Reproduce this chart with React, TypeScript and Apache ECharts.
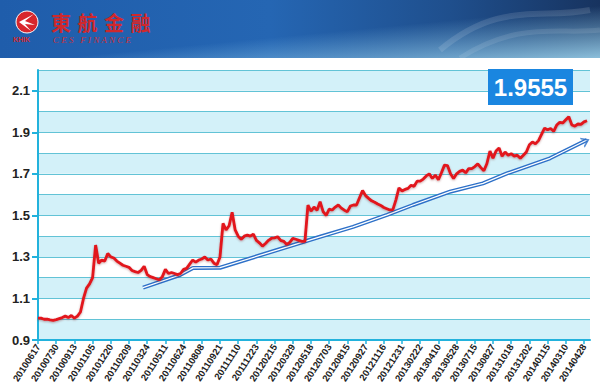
import React, { useEffect, useRef } from "react";
import * as echarts from "echarts";

// ---------- data ----------
const DATE_LABELS = [
  "20100617", "20100730", "20100913", "20101105", "20101220", "20110209",
  "20110324", "20110511", "20110624", "20110808", "20110921", "20111110",
  "20111223", "20120215", "20120329", "20120518", "20120703", "20120815",
  "20120927", "20121116", "20121231", "20130222", "20130410", "20130528",
  "20130715", "20130827", "20131018", "20131202", "20140115", "20140310",
  "20140428",
];

// samples per label interval: 6
const STEP = 1 / 6;

const RATE = [
  1.005, 1.005, 1.0, 1.0, 0.997, 0.995, 0.998, 1.003, 1.008, 1.015,
  1.008, 1.018, 1.005, 1.015, 1.035, 1.1, 1.15, 1.17, 1.2, 1.357,
  1.27, 1.285, 1.28, 1.317, 1.3, 1.295, 1.28, 1.27, 1.26, 1.255,
  1.25, 1.235, 1.229, 1.225, 1.235, 1.255, 1.215, 1.205, 1.2, 1.195,
  1.19, 1.205, 1.24, 1.22, 1.225, 1.22, 1.215, 1.22, 1.24, 1.245,
  1.265, 1.285, 1.275, 1.285, 1.29, 1.3, 1.285, 1.29, 1.27, 1.262,
  1.3, 1.462, 1.43, 1.45, 1.515, 1.43, 1.4, 1.385, 1.4, 1.405,
  1.4, 1.41, 1.38, 1.368, 1.352, 1.365, 1.38, 1.39, 1.392, 1.397,
  1.38, 1.375, 1.36, 1.37, 1.389, 1.385, 1.38, 1.375, 1.375, 1.55,
  1.52, 1.54, 1.525, 1.566, 1.518, 1.5, 1.53, 1.526, 1.54, 1.55,
  1.535, 1.525, 1.518, 1.545, 1.55, 1.55, 1.585, 1.62, 1.595, 1.582,
  1.57, 1.563, 1.555, 1.548, 1.538, 1.532, 1.526, 1.528, 1.575, 1.632,
  1.618, 1.625, 1.63, 1.645, 1.64, 1.665, 1.665, 1.675, 1.69, 1.7,
  1.678, 1.694, 1.672, 1.705, 1.742, 1.74, 1.7, 1.678, 1.7, 1.712,
  1.718, 1.705, 1.725, 1.725, 1.735, 1.748, 1.73, 1.715, 1.75, 1.81,
  1.775, 1.81, 1.825, 1.785, 1.805, 1.79, 1.797, 1.785, 1.79, 1.775,
  1.79, 1.805, 1.84, 1.853, 1.845, 1.86, 1.89, 1.92, 1.912, 1.918,
  1.905, 1.935, 1.948, 1.945, 1.96, 1.975, 1.935, 1.93, 1.94, 1.938,
  1.95, 1.9555,
];

// trend arrow (position in label intervals, value)
const TREND_X = [5.77, 7.8, 8.52, 10.0, 15.49, 17.31, 19.18, 20.6, 22.64, 24.45, 25.77, 28.13, 30.16];
const TREND_Y = [1.152, 1.213, 1.247, 1.248, 1.397, 1.445, 1.502, 1.55, 1.614, 1.654, 1.702, 1.775, 1.863];

const Y_LABELS = [0.9, 1.1, 1.3, 1.5, 1.7, 1.9, 2.1];
const LAST_VALUE = "1.9555";

const TITLE_CHARS = ["東", "航", "金", "融"];
const SUBTITLE = "C E S   F I N A N C E";
const LOGO_TEXT = "KHIK";

const FONT = "'Liberation Sans', Arial, sans-serif";

export default function App() {
  const ref = useRef<HTMLDivElement>(null);

  useEffect(() => {
    if (!ref.current) return;
    const chart = echarts.init(ref.current, null, { renderer: "svg" });

    const rateData = RATE.map((v, i) => [i * STEP, v]);
    const trendData = TREND_X.map((x, i) => [x, TREND_Y[i]]);
    const lastTrend = trendData[trendData.length - 1];
    const xTicks = DATE_LABELS.map((_, i) => i);

    const titleGraphics = TITLE_CHARS.map((c, i) => ({
      type: "text",
      left: 51 + i * 26.5,
      top: 12,
      z: 10,
      style: {
        text: c,
        fill: "#d0282c",
        font: "bold 20px 'Noto Sans CJK TC', sans-serif",
      },
    }));

    chart.setOption({
      animation: false,
      backgroundColor: "#ffffff",
      grid: {
        left: 38,
        right: 10,
        top: 70,
        bottom: 51,
        containLabel: false,
        outerBoundsMode: "none",
      },
      xAxis: {
        type: "value",
        min: 0,
        max: 30.33,
        interval: 1,
        axisLine: { show: true, lineStyle: { color: "#22b2dc", width: 2 } },
        axisTick: {
          show: true,
          customValues: xTicks,
          length: 4,
          lineStyle: { color: "#22b2dc", width: 1.5 },
        },
        axisLabel: {
          customValues: xTicks,
          formatter: (v: number) => DATE_LABELS[Math.round(v)] ?? "",
          rotate: 57,
          fontSize: 9.5,
          fontWeight: "bold",
          fontFamily: FONT,
          color: "#222",
          margin: 5,
        },
        splitLine: { show: false },
      },
      yAxis: [
        {
          type: "value",
          min: 0.9,
          max: 2.2,
          interval: 0.1,
          axisLine: { show: false },
          axisTick: { show: false },
          axisLabel: { show: false },
          splitLine: { show: true, lineStyle: { color: "#62c3d6", width: 1.2 } },
          splitArea: { show: true, areaStyle: { color: ["#d3f1f9", "#ffffff"] } },
        },
        {
          type: "value",
          position: "left",
          min: 0.9,
          max: 2.2,
          interval: 0.1,
          axisLine: { show: true, lineStyle: { color: "#22b2dc", width: 2 } },
          axisTick: {
            show: true,
            customValues: Y_LABELS,
            length: 6,
            lineStyle: { color: "#22b2dc", width: 2 },
          },
          axisLabel: {
            customValues: Y_LABELS,
            formatter: (v: number) => v.toFixed(1),
            fontSize: 13,
            fontWeight: "bold",
            fontFamily: FONT,
            color: "#222",
            margin: 8,
          },
          splitLine: { show: false },
          splitArea: { show: false },
        },
      ],
      series: [
        {
          type: "line",
          data: trendData,
          symbol: "none",
          z: 2,
          lineStyle: { color: "#2d70c8", width: 4 },
        },
        {
          type: "line",
          data: trendData,
          symbol: "none",
          z: 2,
          lineStyle: { color: "#ffffff", width: 1.3 },
        },
        {
          type: "scatter",
          data: [lastTrend],
          symbol: "path://M0,10 L5,0 L10,10 L8.2,10 L5,3.6 L1.8,10 Z",
          symbolSize: [11, 8],
          symbolRotate: -64,
          symbolOffset: [-1, 1],
          itemStyle: { color: "#2d70c8" },
          z: 3,
        },
        {
          type: "line",
          data: rateData,
          symbol: "none",
          z: 4,
          lineStyle: {
            color: "#e2141b",
            width: 2.8,
            shadowColor: "rgba(110,0,0,0.35)",
            shadowBlur: 2,
            shadowOffsetY: 1,
          },
        },
      ],
      graphic: [
        {
          type: "rect",
          left: 0,
          top: 0,
          z: 5,
          shape: { width: 600, height: 58 },
          style: {
            fill: new echarts.graphic.LinearGradient(0, 0, 1, 0, [
              { offset: 0, color: "#1f5dab" },
              { offset: 0.45, color: "#2566b3" },
              { offset: 0.75, color: "#1f4f8d" },
              { offset: 1, color: "#17335f" },
            ]),
          },
        },
        {
          type: "rect",
          left: 0,
          top: 0,
          z: 6,
          shape: { width: 600, height: 58 },
          style: {
            fill: new echarts.graphic.LinearGradient(0, 0, 1, 1, [
              { offset: 0, color: "rgba(150,210,240,0)" },
              { offset: 0.55, color: "rgba(150,210,240,0)" },
              { offset: 1, color: "rgba(160,215,240,0.85)" },
            ]),
          },
        },
        {
          type: "bezierCurve",
          z: 7,
          shape: { x1: 440, y1: 50, x2: 590, y2: 10, cpx1: 500, cpy1: 0, cpx2: 540, cpy2: 20 },
          style: { stroke: "rgba(255,255,255,0.12)", lineWidth: 6, fill: null },
        },
        {
          type: "bezierCurve",
          z: 7,
          shape: { x1: 460, y1: 58, x2: 600, y2: 30, cpx1: 520, cpy1: 20, cpx2: 560, cpy2: 35 },
          style: { stroke: "rgba(255,255,255,0.1)", lineWidth: 5, fill: null },
        },
        {
          type: "circle",
          z: 10,
          shape: { cx: 27, cy: 22, r: 11 },
          style: { fill: "#d8262c", stroke: "#ffffff", lineWidth: 1 },
        },
        {
          type: "polygon",
          z: 11,
          shape: { points: [[19, 22], [34, 14], [25, 21], [35, 25], [25, 24], [31, 31]] },
          style: { fill: "#ffffff" },
        },
        {
          type: "text",
          left: 13,
          top: 36,
          z: 10,
          style: { text: LOGO_TEXT, fill: "#d0282c", font: "bold 7px " + FONT },
        },
        ...titleGraphics,
        {
          type: "text",
          left: 53,
          top: 35,
          z: 10,
          style: {
            text: SUBTITLE,
            fill: "#c8303c",
            font: "italic 9px 'Liberation Serif', serif",
          },
        },
        {
          type: "rect",
          left: 488,
          top: 69,
          z: 20,
          shape: { width: 85, height: 36 },
          style: { fill: "#1a86e0" },
        },
        {
          type: "text",
          x: 530.5,
          y: 87,
          z: 21,
          style: {
            text: LAST_VALUE,
            fill: "#ffffff",
            font: "bold 24px " + FONT,
            align: "center",
            verticalAlign: "middle",
          },
        },
      ],
    });

    return () => chart.dispose();
  }, []);

  return (
    <div
      ref={ref}
      style={{ position: "fixed", left: 0, top: 0, width: 600, height: 391 }}
    />
  );
}
